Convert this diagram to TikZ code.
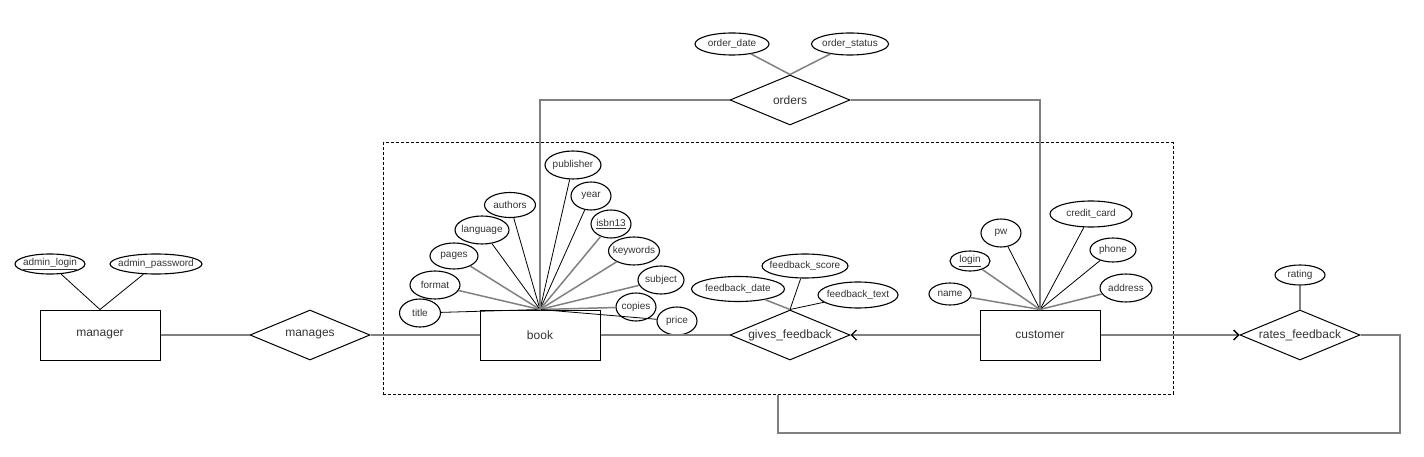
\documentclass[tikz,border=0pt]{standalone}
\usepackage{fontspec}
\setmainfont{Liberation Sans}
\usetikzlibrary{shapes.geometric, arrows.meta}

\begin{document}
\begin{tikzpicture}[
        x=1pt, y=-1pt,
        entity/.style={% For the entities
            rectangle,
            draw,
            line width=1pt,
            minimum width=120pt,
            minimum height=50pt,
            font=\fontsize{12}{14}\selectfont,
            text=black!80,
            },
        relation/.style={% For the relationships
            diamond,
            draw,
            line width=1pt,
            aspect=2.4,
            inner sep=0pt,
            minimum width=120pt,
            minimum height=50pt,
            font=\fontsize{12}{14}\selectfont,
            text=black!80,
            },
        attr/.style={% For the attributes
            ellipse,
            draw,
            line width=1.1pt,
            inner sep=0pt,
            minimum height=28pt,
            font=\fontsize{10}{12}\selectfont,
            text=black!80,
            },
        group/.style={% The dashed box round gives_feedback
            rectangle,
            draw,
            line width=1pt,
            dash pattern=on 3pt off 2pt,
            inner sep=0pt,
            minimum width=790pt,
            minimum height=251pt,
            },
        link/.style={draw=gray, line width=2pt},
        attrblack/.style={draw=black, line width=0.8pt},
        attrgray/.style={draw=gray, line width=1.5pt},
        ArrowO/.style={-{Straight Barb[length=5pt,width=10pt,line width=1.4pt,color=black]}},
    ]
    \useasboundingbox (0,0) rectangle (1424,457);
    % Entities and relationships
    \node[entity] (manager) at (100,335) {manager};
    \node[relation] (manages) at (310,335) {manages};
    \node[entity] (book) at (540,335) {book};
    \node[relation] (feedback) at (790,335) {gives\_feedback};
    \node[entity] (customer) at (1040,335) {customer};
    \node[relation] (rates) at (1300,335) {rates\_feedback};
    \node[relation] (orders) at (790,100) {orders};
    \node[group] (fbgroup) at (778,268.5) {};
    % Manager attributes
    \node[attr, minimum width=70pt, minimum height=20pt] (adminlogin) at (50,264) {\makebox[0pt]{\underline{admin\_login}}};
    \node[attr, minimum width=92pt, minimum height=20pt] (adminpw) at (156,264) {\makebox[0pt]{admin\_password}};
    \draw[attrblack] (adminlogin) -- (manager.north);
    \draw[attrblack] (adminpw) -- (manager.north);
    % Book attributes
    \foreach \n/\t/\x/\y/\w/\h/\c in {
        title/title/420/313/41/28/attrblack,
        format/format/435/285/50/28/attrgray,
        pages/pages/454/256/48/26/attrgray,
        language/language/482/230/54/28/attrblack,
        authors/authors/510/205/51/25/attrblack,
        publisher/publisher/573/165/56/28/attrblack,
        year/year/591/196/40/28/attrblack,
        isbn/{\underline{isbn13}}/611/224/40/28/attrgray,
        keywords/keywords/634/251/51/28/attrgray,
        subject/subject/661/280/46/28/attrgray,
        copies/copies/636/307/40/28/attrgray,
        price/price/677/321/40/28/attrblack}
    {\node[attr, minimum width=\w, minimum height=\h] (\n) at (\x,\y) {\makebox[0pt]{\t}};
     \draw[\c] (\n) -- (book.north);}
    % Customer attributes
    \foreach \n/\t/\x/\y/\w/\h/\c in {
        name/name/950/294/42/22/attrgray,
        login/{\underline{login}}/970/261/40/20/attrgray,
        pw/pw/1001/233/40/28/attrblack,
        card/credit\_card/1091/214/82/26/attrblack,
        phone/phone/1113/250/46/24/attrblack,
        address/address/1126/288/52/28/attrgray}
    {\node[attr, minimum width=\w, minimum height=\h] (\n) at (\x,\y) {\makebox[0pt]{\t}};
     \draw[\c] (\n) -- (customer.north);}
    % Feedback attributes
    \node[attr, minimum width=86pt, minimum height=24pt] (fbscore) at (805,266) {\makebox[0pt]{feedback\_score}};
    \node[attr, minimum width=93pt, minimum height=25pt] (fbdate) at (738,289) {\makebox[0pt]{feedback\_date}};
    \node[attr, minimum width=80pt, minimum height=26pt] (fbtext) at (858,295) {\makebox[0pt]{feedback\_text}};
    \draw[attrblack] (fbscore) -- (feedback.north);
    \draw[attrgray] (fbdate) -- (feedback.north);
    \draw[attrblack] (fbtext) -- (feedback.north);
    % Order attributes
    \node[attr, minimum width=74pt, minimum height=22pt] (odate) at (732,44) {\makebox[0pt]{order\_date}};
    \node[attr, minimum width=77pt, minimum height=22pt] (ostatus) at (850,44) {\makebox[0pt]{order\_status}};
    \draw[attrgray] (odate) -- (orders.north);
    \draw[attrgray] (ostatus) -- (orders.north);
    % Rating
    \node[attr, minimum width=50pt, minimum height=20pt] (rating) at (1300,275) {\makebox[0pt]{rating}};
    \draw[link] (rating) -- (rates.north);
    % Connecting all
    \draw[link] (manager) -- (manages);
    \draw[link] (manages) -- (book);
    \draw[link] (book) -- (feedback);
    \draw[link, ArrowO] (customer.west) -- (feedback.east);
    \draw[link, ArrowO] (customer.east) -- (rates.west);
    \draw[link] (book.north) |- (orders.west);
    \draw[link] (customer.north) |- (orders.east);
    \coordinate (loop) at (1400,433);
    \draw[link] (rates.east) -| (loop) -| (fbgroup.south);
\end{tikzpicture}
\end{document}
